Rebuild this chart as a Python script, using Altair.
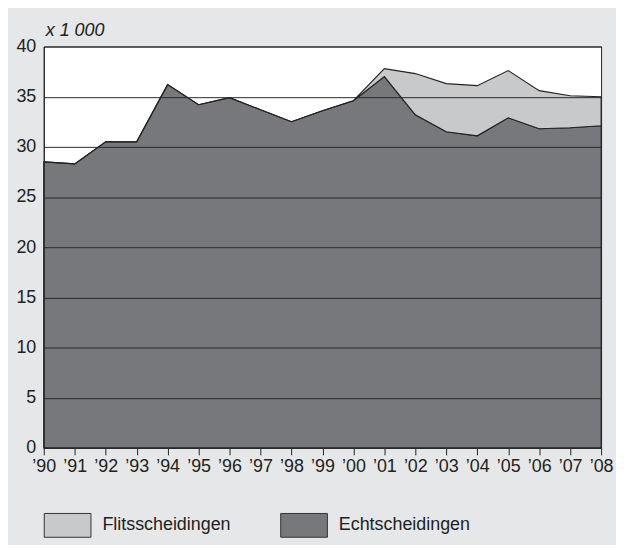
import altair as alt
import pandas as pd

years = list(range(1990, 2009))
tick_labels = ["’90", "’91", "’92", "’93", "’94", "’95", "’96", "’97", "’98", "’99",
               "’00", "’01", "’02", "’03", "’04", "’05", "’06", "’07", "’08"]
echt = [28.5, 28.3, 30.5, 30.5, 36.2, 34.2, 34.9, 33.7, 32.5, 33.6,
        34.6, 37.0, 33.2, 31.5, 31.1, 32.9, 31.8, 31.9, 32.1]
flits = [0, 0, 0, 0, 0, 0, 0, 0, 0, 0,
         0, 0.8, 4.1, 4.8, 5.0, 4.7, 3.8, 3.2, 2.9]
series = ["Flitsscheidingen", "Echtscheidingen"]
colors = ["#c8c9cb", "#77787b"]

rows = []
for i, y in enumerate(years):
    rows.append({"year": y, "serie": "Echtscheidingen", "value": echt[i], "ord": 0})
    rows.append({"year": y, "serie": "Flitsscheidingen", "value": flits[i], "ord": 1})
df = pd.DataFrame(rows)

label_arr = "[" + ",".join("'" + t + "'" for t in tick_labels) + "]"
FONT = "Liberation Sans, Arial, sans-serif"

chart = alt.Chart(df).mark_area(
    opacity=1, stroke="#222222", strokeWidth=1.1, strokeJoin="miter"
).encode(
    x=alt.X("year:Q",
            scale=alt.Scale(domain=[1990, 2008], nice=False, zero=False),
            axis=alt.Axis(values=years, labelExpr=label_arr + "[datum.value - 1990]",
                          title=None, grid=False, tickSize=7, tickColor="#222",
                          domainColor="#222", labelPadding=3, labelFontSize=18,
                          labelOverlap=False, labelBound=False, labelFlush=False,
                          labelColor="#222", labelFont=FONT)),
    y=alt.Y("value:Q", stack="zero",
            scale=alt.Scale(domain=[0, 40], nice=False),
            axis=alt.Axis(values=[0, 5, 10, 15, 20, 25, 30, 35, 40], title=None,
                          ticks=False, grid=True, gridColor="#2a2a2a", gridWidth=1,
                          domainColor="#222", labelPadding=8, labelFontSize=18,
                          labelOverlap=False, labelFlush=False,
                          labelColor="#222", labelFont=FONT, zindex=1)),
    color=alt.Color("serie:N",
                    scale=alt.Scale(domain=series, range=colors),
                    legend=alt.Legend(title=None, orient="none", legendX=0, legendY=458,
                                      direction="horizontal", columns=2,
                                      symbolType="M-1,-0.51H1V0.51H-1Z", symbolSize=2209,
                                      symbolStrokeColor="#333", symbolStrokeWidth=1,
                                      symbolOpacity=1,
                                      labelFontSize=18, labelFont=FONT, labelColor="#222",
                                      labelOffset=11, columnPadding=47, padding=0)),
    order=alt.Order("ord:Q"),
).properties(
    width=561, height=404,
    title=alt.TitleParams("x 1 000", anchor="start", frame="group", fontStyle="italic",
                          fontWeight="normal", fontSize=18, font=FONT, color="#222",
                          offset=10, dx=2, dy=12),
    autosize=alt.AutoSizeParams(type="none"),
    padding={"left": 36, "top": 37, "right": 15, "bottom": 96},
    background="#e6e7e8",
).configure_view(fill="white", stroke="#222", strokeWidth=1)

chart.save("out.html", embed_options={"renderer": "svg", "actions": False})
